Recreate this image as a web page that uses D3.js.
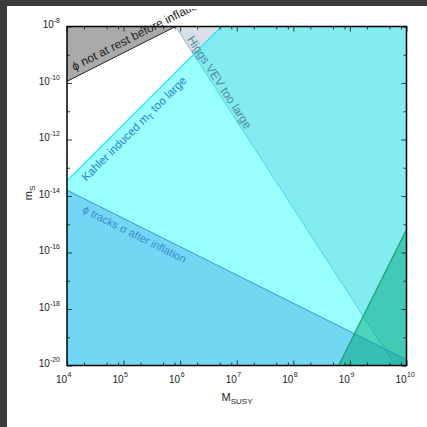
<!DOCTYPE html>
<html><head><meta charset="utf-8">
<script src="https://cdn.jsdelivr.net/npm/d3@7"></script>
<style>
body{margin:0;background:#fff}
svg{display:block}
text{font-family:"Liberation Sans",Arial,Helvetica,sans-serif}
</style>
</head><body>
<svg id="chart" width="427" height="427"></svg>
<script>
// Tick positions
const xMajor = [1e4, 1e5, 1e6, 1e7, 1e8, 1e9, 1e10];
const xExp = ["4", "5", "6", "7", "8", "9", "10"];
const xMinorMantissa = [2, 5, 8];
const yMajor = [1e-20, 1e-18, 1e-16, 1e-14, 1e-12, 1e-10, 1e-8];
const yExp = ["-20", "-18", "-16", "-14", "-12", "-10", "-8"];
const yMinor = [1e-19, 1e-17, 1e-15, 1e-13, 1e-11, 1e-9];

// Constraint boundaries, as [M_SUSY, m_S] end points
const notAtRestEdge = [[1e4, 1.15e-10], [8.3e5, 1e-8]];
const higgsEdge = [[8.3e5, 1e-8], [6.3e9, 1e-20]];
const kahlerEdge = [[1e4, 3.5e-14], [5.4e6, 1e-8]];
const tracksEdge = [[1e4, 1.6e-14], [1e10, 1.6e-20]];
const greenEdge = [[6.3e8, 1e-20], [1e10, 6.5e-16]];

const svg = d3.select("#chart");
const x = d3.scaleLog().domain([1e4, 1e10]).range([67, 406.5]);
const y = d3.scaleLog().domain([1e-20, 1e-8]).range([365.5, 26.5]);
const [X0, X1] = x.domain(), [Y0, Y1] = y.domain();

const line = d3.line().x(d => x(d[0])).y(d => y(d[1]));
const poly = pts => line(pts) + "Z";

const plot = svg.append("g");

// Higgs VEV region (right of its edge)
plot.append("path")
  .attr("d", poly([...higgsEdge, [X1, Y0], [X1, Y1]]))
  .attr("fill", "#d9dfe8");
plot.append("path").attr("d", line(higgsEdge))
  .attr("fill", "none").attr("stroke", "#5aa8bc").attr("stroke-width", 0.9).attr("stroke-opacity", 0.8);

// Kahler-induced mass region (below its edge)
plot.append("path")
  .attr("d", poly([...kahlerEdge, [X1, Y1], [X1, Y0], [X0, Y0]]))
  .attr("fill", "#00ffff").attr("fill-opacity", 0.4);
plot.append("path").attr("d", line(kahlerEdge))
  .attr("fill", "none").attr("stroke", "#19e6ff").attr("stroke-width", 1.1);

// phi tracks sigma region
plot.append("path")
  .attr("d", poly([...tracksEdge, [X1, Y0], [X0, Y0]]))
  .attr("fill", "#288cdc").attr("fill-opacity", 0.35);
plot.append("path").attr("d", line(tracksEdge))
  .attr("fill", "none").attr("stroke", "#3a96dc").attr("stroke-width", 1);

// bottom-right green region
plot.append("path")
  .attr("d", poly([...greenEdge, [X1, Y0]]))
  .attr("fill", "#00a878").attr("fill-opacity", 0.5);
plot.append("path").attr("d", line(greenEdge))
  .attr("fill", "none").attr("stroke", "#189a66").attr("stroke-width", 1.1);

// phi not at rest region
plot.append("path")
  .attr("d", poly([...notAtRestEdge, [X0, Y1]]))
  .attr("fill", "#aaaaaa");
plot.append("path").attr("d", line(notAtRestEdge))
  .attr("fill", "none").attr("stroke", "#222").attr("stroke-width", 1);

// Axes: inward ticks on all four sides
const xMinor = [];
xMajor.slice(0, -1).forEach(d => xMinorMantissa.forEach(m => xMinor.push(d * m)));
const tickStyle = g => g.call(s => s.select(".domain").remove())
  .selectAll("line").attr("stroke", "#111").attr("stroke-width", 0.8);

svg.append("g").attr("transform", `translate(0,${y(Y0)})`)
  .call(d3.axisBottom(x).tickValues(xMajor).tickSize(-5).tickFormat("")).call(tickStyle);
svg.append("g").attr("transform", `translate(0,${y(Y0)})`)
  .call(d3.axisBottom(x).tickValues(xMinor).tickSize(-3).tickFormat("")).call(tickStyle);
svg.append("g").attr("transform", `translate(0,${y(Y1)})`)
  .call(d3.axisTop(x).tickValues(xMajor).tickSize(-5).tickFormat("")).call(tickStyle);
svg.append("g").attr("transform", `translate(0,${y(Y1)})`)
  .call(d3.axisTop(x).tickValues(xMinor).tickSize(-3).tickFormat("")).call(tickStyle);
svg.append("g").attr("transform", `translate(${x(X0)},0)`)
  .call(d3.axisLeft(y).tickValues(yMajor).tickSize(-5).tickFormat("")).call(tickStyle);
svg.append("g").attr("transform", `translate(${x(X0)},0)`)
  .call(d3.axisLeft(y).tickValues(yMinor).tickSize(-3).tickFormat("")).call(tickStyle);
svg.append("g").attr("transform", `translate(${x(X1)},0)`)
  .call(d3.axisRight(y).tickValues(yMajor).tickSize(-5).tickFormat("")).call(tickStyle);
svg.append("g").attr("transform", `translate(${x(X1)},0)`)
  .call(d3.axisRight(y).tickValues(yMinor).tickSize(-3).tickFormat("")).call(tickStyle);

// Frame
svg.append("rect")
  .attr("x", x(X0)).attr("y", y(Y1))
  .attr("width", x(X1) - x(X0)).attr("height", y(Y0) - y(Y1))
  .attr("fill", "none").attr("stroke", "#000").attr("stroke-width", 1.5);

// Tick labels: x as 10 + exponent split at the tick
const xl = svg.append("g").attr("fill", "#222");
xMajor.forEach((v, i) => {
  xl.append("text").attr("x", x(v)).attr("y", 383).attr("text-anchor", "end")
    .attr("font-size", 10).text("10");
  xl.append("text").attr("x", x(v) + 0.5).attr("y", 377).attr("text-anchor", "start")
    .attr("font-size", 7).text(xExp[i]);
});
const yl = svg.append("g").attr("fill", "#222");
yMajor.forEach((v, i) => {
  const t = yl.append("text").attr("x", 60).attr("y", y(v) + 1.5)
    .attr("text-anchor", "end").attr("font-size", 10);
  t.append("tspan").text("10");
  t.append("tspan").attr("font-size", 7).attr("dy", -5).text(yExp[i]);
});

// Axis titles
const xt = svg.append("text").attr("x", 237).attr("y", 401)
  .attr("text-anchor", "middle").attr("font-size", 11).attr("fill", "#222");
xt.append("tspan").text("M");
xt.append("tspan").attr("font-size", 8).attr("dy", 3).text("SUSY");
const yt = svg.append("text").attr("transform", "translate(32,193) rotate(-90)")
  .attr("text-anchor", "middle").attr("font-size", 11).attr("fill", "#222");
yt.append("tspan").text("m");
yt.append("tspan").attr("font-size", 8).attr("dy", 3).text("S");

// Region labels placed along their boundary lines
function along(edge, M) {
  const [a, b] = edge;
  const t = (Math.log10(M) - Math.log10(a[0])) / (Math.log10(b[0]) - Math.log10(a[0]));
  const m = Math.pow(10, Math.log10(a[1]) + t * (Math.log10(b[1]) - Math.log10(a[1])));
  const ang = Math.atan2(y(b[1]) - y(a[1]), x(b[0]) - x(a[0])) * 180 / Math.PI;
  return { px: x(M), py: y(m), ang };
}
svg.append("clipPath").attr("id", "labelClip")
  .append("rect").attr("x", 0).attr("y", 9).attr("width", 427).attr("height", 418);
const labels = svg.append("g").attr("clip-path", "url(#labelClip)");

function edgeLabel(edge, M, dy, color, size, parts) {
  const p = along(edge, M);
  const t = labels.append("text")
    .attr("transform", `translate(${p.px},${p.py}) rotate(${p.ang})`)
    .attr("dy", dy).attr("font-size", size).attr("fill", color);
  parts.forEach(([s, sub]) => {
    const ts = t.append("tspan").text(s);
    if (sub === 1) ts.attr("font-size", size * 0.72).attr("dy", 3);
    if (sub === -1) ts.attr("dy", -3);
  });
  return t;
}

edgeLabel(notAtRestEdge, 1.5e4, -6, "#1e1e1e", 12, [["ϕ not at rest before inflation"]]);
edgeLabel(kahlerEdge, 1.45e4, 14.5, "#2a7ec8", 11.5, [["Kahler induced m"], ["T", 1], [" too large", -1]]);
edgeLabel(tracksEdge, 2.3e4, 13, "#3a8ccc", 11, [["ϕ tracks σ after inflation"]]);
edgeLabel(higgsEdge, 1.2e6, -2.5, "#4f8a9c", 12, [["Higgs VEV too large"]]);

// Dark frame strips at the top and left edges
svg.append("rect").attr("x", 0).attr("y", 0).attr("width", 427).attr("height", 6).attr("fill", "#3b3b3b");
svg.append("rect").attr("x", 0).attr("y", 0).attr("width", 7).attr("height", 427).attr("fill", "#3b3b3b");
</script>
</body></html>
